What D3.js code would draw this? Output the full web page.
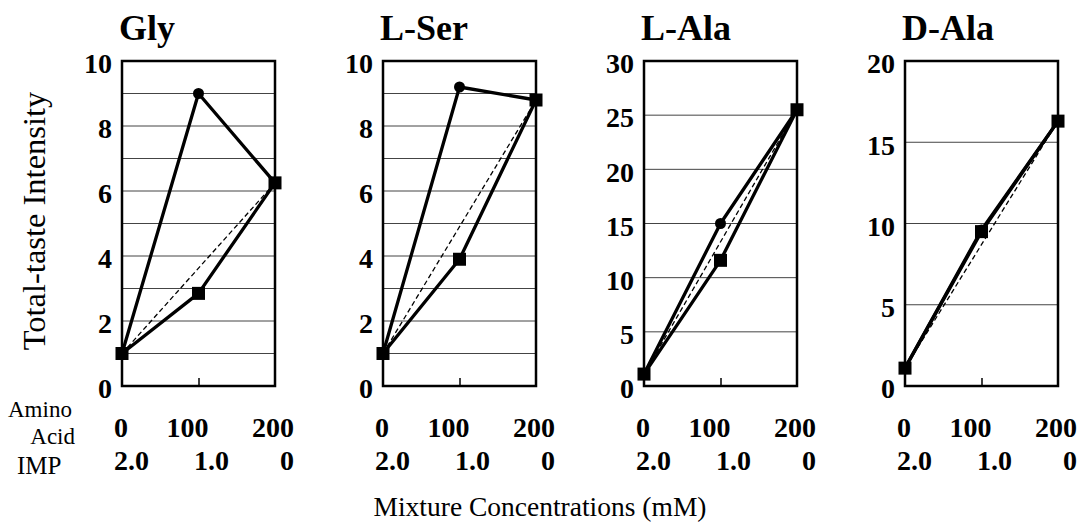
<!DOCTYPE html>
<html>
<head>
<meta charset="utf-8">
<script src="https://cdn.jsdelivr.net/npm/d3@7"></script>
<style>
  body { margin: 0; background: #fff; }
  svg { display: block; }
  text { font-family: "Liberation Serif", "Times New Roman", serif; fill: #000; }
</style>
</head>
<body>
<svg id="chart" width="1079" height="526"></svg>
<script>
// panels, one per amino acid
var panels = ['Gly', 'L-Ser', 'L-Ala', 'D-Ala'];
var aminoConc = [0, 100, 200];          // mM
var impLabels = ['2.0', '1.0', '0'];    // mM
var yMax = [10, 10, 30, 20];
var yLabelStep = [2, 2, 5, 5];
var yGridStep = [1, 1, 5, 5];

// mixture values (circle marker at 100 mM)
var circleSeries = [
  [1.0, 9.0, 6.25],
  [1.0, 9.2, 8.8],
  [1.1, 15.0, 25.5],
  [1.1, 9.6, 16.3]
];
// mixture values (square marker at 100 mM)
var squareSeries = [
  [1.0, 2.85, 6.25],
  [1.0, 3.9, 8.8],
  [1.1, 11.6, 25.5],
  [1.1, 9.5, 16.3]
];

var svg = d3.select('#chart');
var plotTop = 61, plotBottom = 386, plotW = 153;
var panelLeft = function(i) { return 122 + i * 261; };

panels.forEach(function(name, i) {
  var x0 = panelLeft(i);
  var g = svg.append('g').attr('transform', 'translate(' + x0 + ',0)');

  var x = d3.scaleLinear().domain([0, 200]).range([0, plotW]);
  var y = d3.scaleLinear().domain([0, yMax[i]]).range([plotBottom, plotTop]);

  // grid
  g.append('g').selectAll('line')
    .data(d3.range(yGridStep[i], yMax[i], yGridStep[i]))
    .enter().append('line')
      .attr('x1', 0).attr('x2', plotW)
      .attr('y1', function(d) { return y(d); })
      .attr('y2', function(d) { return y(d); })
      .style('stroke', '#444')
      .style('stroke-width', 1);

  // y axis labels
  var yAxis = d3.axisLeft(y)
    .tickValues(d3.range(0, yMax[i] + 0.001, yLabelStep[i]))
    .tickSize(0)
    .tickPadding(10);
  var ya = g.append('g').call(yAxis);
  ya.select('.domain').remove();
  ya.selectAll('text')
    .attr('dy', '0.42em')
    .style('font-family', '"Liberation Serif", "Times New Roman", serif')
    .style('font-size', '28px')
    .style('font-weight', 'bold');

  // middle tick on bottom
  var xa = g.append('g')
    .attr('transform', 'translate(0,' + plotBottom + ')')
    .call(d3.axisBottom(x).tickValues([100]).tickSize(-8).tickFormat(''));
  xa.select('.domain').remove();
  xa.selectAll('line').style('stroke', '#000').style('stroke-width', 1.5);

  // dashed additive line
  g.append('line')
    .attr('x1', x(aminoConc[0])).attr('y1', y(squareSeries[i][0]))
    .attr('x2', x(aminoConc[2])).attr('y2', y(squareSeries[i][2]))
    .style('stroke', '#000')
    .style('stroke-width', 1.3)
    .style('stroke-dasharray', '5,3');

  var line = d3.line()
    .x(function(d, j) { return x(aminoConc[j]); })
    .y(function(d) { return y(d); });

  [circleSeries[i], squareSeries[i]].forEach(function(s) {
    g.append('path')
      .datum(s)
      .attr('d', line)
      .style('fill', 'none')
      .style('stroke', '#000')
      .style('stroke-width', 3.3)
      .style('stroke-linejoin', 'round');
  });

  // box
  g.append('rect')
    .attr('x', 0).attr('y', plotTop)
    .attr('width', plotW).attr('height', plotBottom - plotTop)
    .style('fill', 'none')
    .style('stroke', '#000')
    .style('stroke-width', 2.5);

  // markers
  g.append('circle')
    .attr('cx', x(aminoConc[1]))
    .attr('cy', y(circleSeries[i][1]))
    .attr('r', 5.5)
    .style('fill', '#000');
  var sq = 13;
  g.selectAll('rect.sq')
    .data(squareSeries[i])
    .enter().append('rect')
      .attr('class', 'sq')
      .attr('x', function(d, j) { return x(aminoConc[j]) - sq / 2; })
      .attr('y', function(d) { return y(d) - sq / 2; })
      .attr('width', sq).attr('height', sq)
      .style('fill', '#000');

  // title
  g.append('text')
    .attr('x', -3).attr('y', 40)
    .style('font-size', '36px')
    .style('font-weight', 'bold')
    .text(name);

  // concentration labels
  var anchors = ['start', 'middle', 'end'];
  var shift1 = [-8, -11, 19];
  var shift2 = [-8, 13, 19];
  g.selectAll('text.aa')
    .data(aminoConc)
    .enter().append('text')
      .attr('class', 'aa')
      .attr('x', function(d, j) { return x(d) + shift1[j]; })
      .attr('y', 437)
      .attr('text-anchor', function(d, j) { return anchors[j]; })
      .style('font-size', '28px')
      .style('font-weight', 'bold')
      .text(function(d) { return d; });
  g.selectAll('text.imp')
    .data(impLabels)
    .enter().append('text')
      .attr('class', 'imp')
      .attr('x', function(d, j) { return x(aminoConc[j]) + shift2[j]; })
      .attr('y', 470)
      .attr('text-anchor', function(d, j) { return anchors[j]; })
      .style('font-size', '28px')
      .style('font-weight', 'bold')
      .text(function(d) { return d; });
});

// row captions
svg.append('text').attr('x', 8).attr('y', 417).style('font-size', '23px').text('Amino');
svg.append('text').attr('x', 75).attr('y', 444).attr('text-anchor', 'end').style('font-size', '23px').text('Acid');
svg.append('text').attr('x', 17).attr('y', 474).style('font-size', '25px').text('IMP');

// axis titles
svg.append('text')
  .attr('transform', 'translate(45,221) rotate(-90)')
  .attr('text-anchor', 'middle')
  .style('font-size', '32.5px')
  .text('Total-taste Intensity');

svg.append('text')
  .attr('x', 540).attr('y', 516)
  .attr('text-anchor', 'middle')
  .style('font-size', '27.5px')
  .text('Mixture Concentrations (mM)');
</script>
</body>
</html>
